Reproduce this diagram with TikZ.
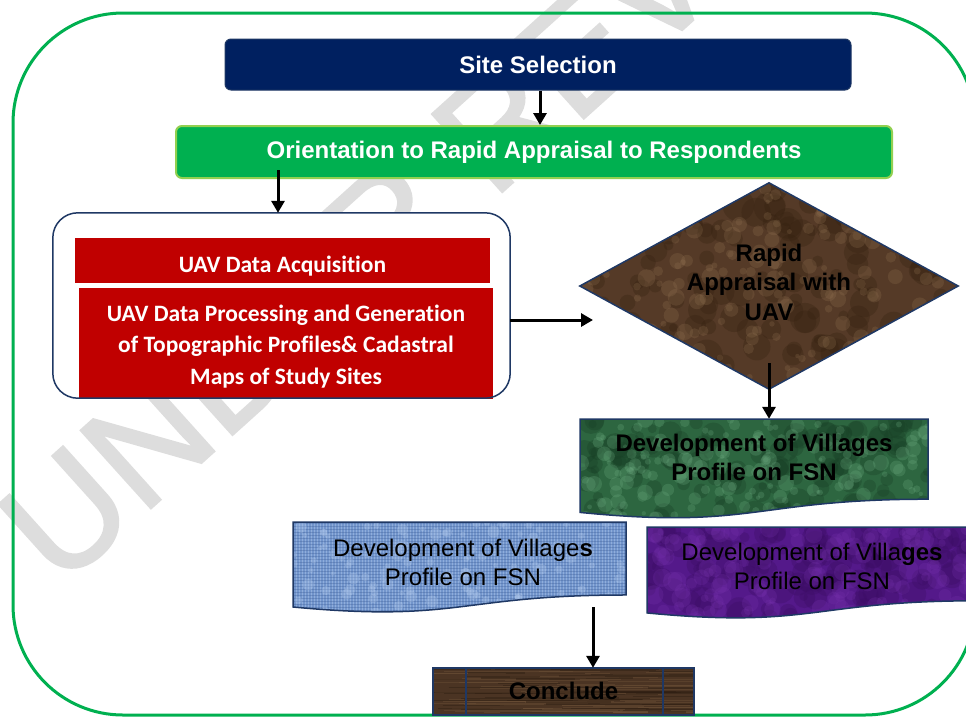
\documentclass[tikz,border=0pt]{standalone}
\usepackage{fontspec}
\setmainfont{Liberation Sans}
\newfontfamily\carlito[Ligatures=NoCommon]{Carlito}
\newfontfamily\wmfont[FakeBold=1.6]{Liberation Sans}
\usetikzlibrary{shapes.geometric,arrows.meta,calc}
\definecolor{navy}{HTML}{002060}
\definecolor{navyline}{HTML}{1F3864}
\definecolor{ogreen}{HTML}{00B050}
\definecolor{lgreen}{HTML}{92D050}
\definecolor{dred}{HTML}{C00000}
\definecolor{marble}{HTML}{553A27}
\definecolor{marblelt}{HTML}{9A7A58}
\definecolor{marbledk}{HTML}{33200F}
\definecolor{mgreen}{HTML}{2D6640}
\definecolor{mgreenlt}{HTML}{6FAE83}
\definecolor{mgreendk}{HTML}{173D24}
\definecolor{jeans}{HTML}{7295CC}
\definecolor{jeanslt}{HTML}{B4CCEE}
\definecolor{jeansdk}{HTML}{34558F}
\definecolor{velvet}{HTML}{54198A}
\definecolor{velvetlt}{HTML}{7A35B0}
\definecolor{velvetdk}{HTML}{3A0C62}
\definecolor{wood}{HTML}{4B3423}
\definecolor{woodlt}{HTML}{6E5238}
\definecolor{wooddk}{HTML}{2E1E12}
\definecolor{wmark}{HTML}{DDDDDD}
% random mottled texture: x0 y0 w h colour count rmin rmax opacity
\newcommand\mottle[9]{%
  \foreach \i in {1,...,#6}{%
    \pgfmathsetmacro\px{#1+rnd*#3}%
    \pgfmathsetmacro\py{#2+rnd*#4}%
    \pgfmathsetmacro\pr{#7+rnd*(#8-#7)}%
    \fill[#5, opacity=#9] (\px,\py) circle[radius=\pr pt];
  }}
% document-shape geometry
\newcommand\docgeom[4]{%
  \pgfmathsetmacro\dxl{#1}%
  \pgfmathsetmacro\dyt{#2}%
  \pgfmathsetmacro\dxr{#1+#3}%
  \pgfmathsetmacro\dxm{#1+0.5*#3}%
  \pgfmathsetmacro\dyr{#2+0.802*#4}%
  \pgfmathsetmacro\dyc{#2+1.107*#4}%
  \pgfmathsetmacro\dyl{#2+0.934*#4}}
\newcommand\docpathcmd[1]{#1 (\dxl,\dyt) -- (\dxr,\dyt) -- (\dxr,\dyr) .. controls (\dxm,\dyr) and (\dxm,\dyc) .. (\dxl,\dyl) -- cycle;}
\tikzset{
  arr/.style={line width=3pt, -{Triangle[width=13pt,length=12pt]}},
  topbox/.style={rectangle, rounded corners=6pt, inner sep=0pt, text=white,
    font=\fontsize{24}{29}\selectfont\bfseries},
  redbox/.style={rectangle, fill=dred, inner sep=0pt},
  redtext/.style={inner sep=0pt, text=white, align=center,
    font=\carlito\fontsize{23.5}{31.5}\selectfont\bfseries},
  docline/.style={draw=navyline, line width=1.5pt},
  doctext/.style={align=center, inner sep=0pt, text=black,
    font=\fontsize{24}{29}\selectfont},
  docarea/.style={rectangle, inner sep=0pt},
}
\begin{document}
\begin{tikzpicture}[x=1pt,y=-1pt]
\useasboundingbox (0,0) rectangle (966,716);
% watermark
\begin{scope}
\clip (0,0) rectangle (966,716);
\node[text=wmark, font=\wmfont\fontsize{152}{152}\selectfont, rotate=42, inner sep=0pt, anchor=base west] (wm) at (60,590) {UNDER REVIEW};
\end{scope}
% outer frame
\draw[ogreen, line width=3pt, rounded corners=110pt] (13,13) rectangle (975,715);
% top boxes
\node[topbox, fill=navy, draw=navyline, line width=1pt, minimum width=626pt, minimum height=51pt] (ss) at (538,64.5) {Site Selection};
\node[topbox, fill=ogreen, draw=lgreen, line width=2pt, minimum width=716pt, minimum height=52pt] (or) at (534,152) {Orientation to Rapid Appraisal to Respondents};
% container
\node[rectangle, rounded corners=25pt, fill=white, minimum width=457pt, minimum height=185pt] (cont) at (281.5,305.5) {};
\node[redbox, minimum width=415pt, minimum height=45pt] (r1) at (282.5,260.5) {};
\node[redtext] (r1txt) at (282.5,266) {UAV Data Acquisition};
\node[redbox, minimum width=414pt, minimum height=111pt] (r2) at (286,343.5) {};
\node[redtext] (r2txt) at (286,346.5) {UAV Data Processing and Generation\\of Topographic Profiles\& Cadastral\\Maps of Study Sites};
\draw[navyline, line width=1.5pt, rounded corners=25pt] (cont.south west) rectangle (cont.north east);
% diamond
\node[diamond, fill=marble, inner sep=0pt, aspect=1.835, minimum width=378pt, minimum height=206pt] (dia) at (769,286) {};
\begin{scope}
\clip (dia.north) -- (dia.east) -- (dia.south) -- (dia.west) -- cycle;
\pgfmathsetseed{11}
\mottle{580}{183}{378}{206}{marbledk}{160}{4}{16}{0.3}
\mottle{580}{183}{378}{206}{marblelt}{220}{2}{9}{0.22}
\end{scope}
\draw[navyline, line width=1.5pt] (dia.north) -- (dia.east) -- (dia.south) -- (dia.west) -- cycle;
\node[align=center, inner sep=0pt, font=\fontsize{24}{29.5}\selectfont\bfseries] (diatxt) at (769,282) {Rapid\\Appraisal with\\UAV};
% green document
\docgeom{580}{419}{348}{100}
\docpathcmd{\fill[mgreen]}
\begin{scope}
\docpathcmd{\clip}
\pgfmathsetseed{21}
\mottle{580}{419}{348}{100}{mgreendk}{140}{4}{14}{0.3}
\mottle{580}{419}{348}{100}{mgreenlt}{200}{2}{8}{0.25}
\end{scope}
\docpathcmd{\draw[docline]}
\node[docarea, minimum width=348pt, minimum height=100pt] (gdoc) at (754,469) {};
\node[doctext, font=\fontsize{24}{29}\selectfont\bfseries] (gdoctxt) at (754,457) {Development of Villages\\Profile on FSN};
% blue document
\docgeom{293}{522}{333}{91}
\docpathcmd{\fill[jeans]}
\begin{scope}
\docpathcmd{\clip}
\foreach \k in {293,296,...,626} {\draw[jeanslt, opacity=0.45, line width=0.9pt] (\k,522) -- (\k,616);}
\foreach \k in {523,526,...,616} {\draw[jeansdk, opacity=0.3, line width=0.8pt] (293,\k) -- (626,\k);}
\pgfmathsetseed{31}
\mottle{293}{522}{333}{94}{jeanslt}{120}{2}{6}{0.3}
\end{scope}
\docpathcmd{\draw[docline]}
\node[docarea, minimum width=333pt, minimum height=91pt] (bdoc) at (459.5,567.5) {};
\node[doctext] (bdoctxt) at (463,562) {Development of Village\textbf{s}\\Profile on FSN};
% purple document
\docgeom{647}{527}{330}{92}
\docpathcmd{\fill[velvet]}
\begin{scope}
\docpathcmd{\clip}
\pgfmathsetseed{41}
\mottle{647}{527}{330}{92}{velvetdk}{140}{4}{14}{0.3}
\mottle{647}{527}{330}{92}{velvetlt}{160}{3}{10}{0.22}
\end{scope}
\docpathcmd{\draw[docline]}
\node[docarea, minimum width=330pt, minimum height=92pt] (pdoc) at (812,573) {};
\node[doctext] (pdoctxt) at (812,566) {Development of Villa\textbf{ges}\\Profile on FSN};
% conclude
\node[rectangle, fill=wood, minimum width=261pt, minimum height=47pt, inner sep=0pt] (concl) at (563.5,691.5) {};
\begin{scope}
\clip (concl.south west) rectangle (concl.north east);
\pgfmathsetseed{51}
\foreach \i in {1,...,70}{%
  \pgfmathsetmacro\py{668+rnd*47}%
  \pgfmathsetmacro\pxa{420+rnd*230}%
  \pgfmathsetmacro\len{30+rnd*160}%
  \draw[woodlt, opacity=0.4, line width=1pt] (\pxa,\py) -- ++(\len,0);}
\foreach \i in {1,...,50}{%
  \pgfmathsetmacro\py{668+rnd*47}%
  \pgfmathsetmacro\pxa{420+rnd*230}%
  \pgfmathsetmacro\len{30+rnd*160}%
  \draw[wooddk, opacity=0.45, line width=1.2pt] (\pxa,\py) -- ++(\len,0);}
\end{scope}
\draw[navyline, line width=1.5pt] (concl.south west) rectangle (concl.north east);
\draw[navyline, line width=1.5pt] ([xshift=33pt]concl.north west) -- ([xshift=33pt]concl.south west);
\draw[navyline, line width=1.5pt] ([xshift=-31pt]concl.north east) -- ([xshift=-31pt]concl.south east);
\node[inner sep=0pt, font=\fontsize{24}{29}\selectfont\bfseries] (concltxt) at (563.5,691) {Conclude};
% connectors
\draw[arr] ([xshift=2pt]ss.south) -- ([xshift=2pt]ss.south |- or.north);
\coordinate (a2s) at (278,170);
\draw[arr] (a2s) -- (a2s |- cont.north);
\coordinate (a3e) at (593,320);
\draw[arr] (cont.east |- a3e) -- (a3e);
\draw[arr] ([yshift=26pt]dia.south) -- (dia.south |- gdoc.north);
\coordinate (a5s) at (593,607);
\draw[arr] (a5s) -- (a5s |- concl.north);
\end{tikzpicture}
\end{document}
